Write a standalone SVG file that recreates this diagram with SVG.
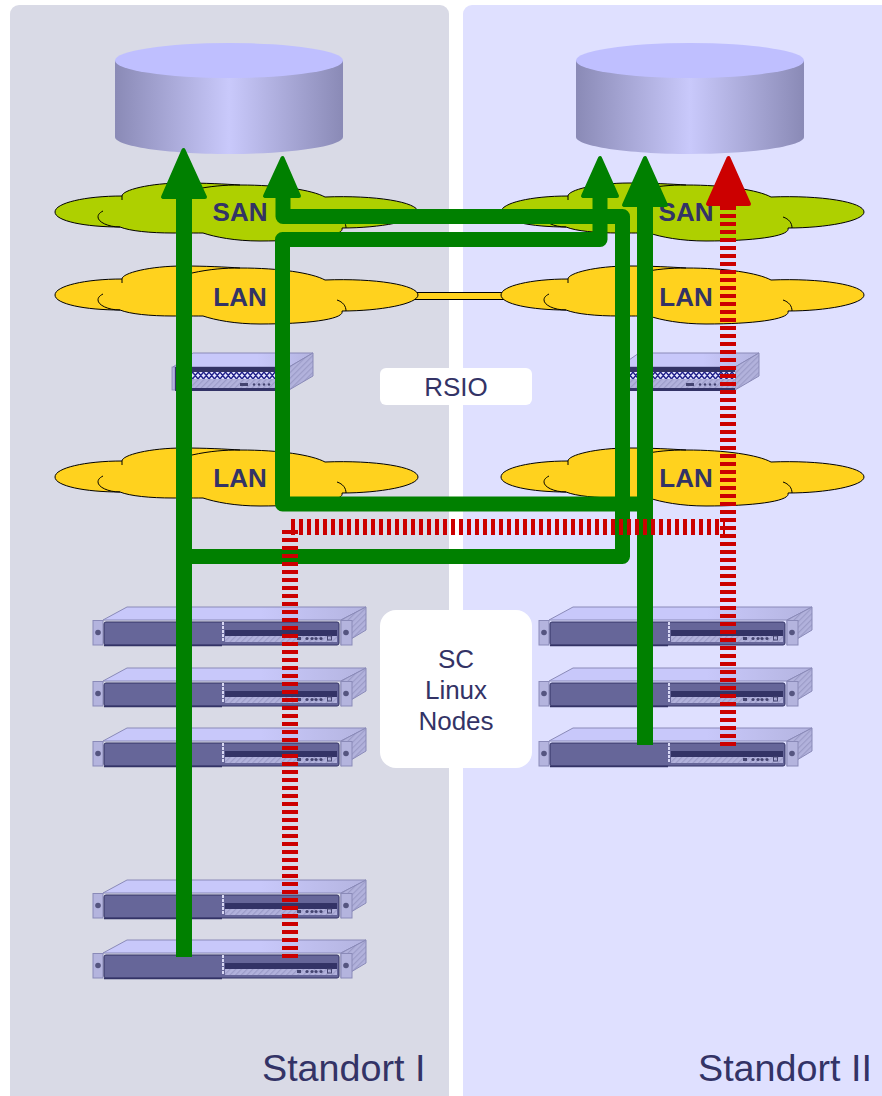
<svg xmlns="http://www.w3.org/2000/svg" width="882" height="1096" viewBox="0 0 882 1096">
<style>
text{font-family:"Liberation Sans",Arial,sans-serif;fill:#333366}
.cl{font-size:26px;font-weight:bold;text-anchor:middle}
.lb{font-size:26px;text-anchor:middle}
.st{font-size:37.7px}
.cs{stroke:#000;stroke-width:1}
.gl{fill:none;stroke:#008000;stroke-width:15;stroke-linejoin:round}
.ga{fill:#008000;stroke:#008000;stroke-width:4;stroke-linejoin:round}
.rl{fill:none;stroke:#cc0000;stroke-width:16;stroke-dasharray:4 4}
.ra{fill:#cc0000;stroke:#cc0000;stroke-width:4;stroke-linejoin:round}
</style>
<defs>
<linearGradient id="cyl" x1="0" x2="1" y1="0" y2="0">
<stop offset="0" stop-color="#8a8ab6"/><stop offset="0.5" stop-color="#c9c9fb"/><stop offset="1" stop-color="#8a8ab6"/>
</linearGradient>
<linearGradient id="topface" x1="0" x2="1" y1="0" y2="0">
<stop offset="0" stop-color="#c8c8fa"/><stop offset="0.6" stop-color="#c8c8fa"/><stop offset="1" stop-color="#b4b4e0"/>
</linearGradient>
<pattern id="hatch" width="4" height="4" patternUnits="userSpaceOnUse" patternTransform="rotate(-45)">
<rect width="4" height="4" fill="#b2b2dc"/><rect width="4" height="1.2" fill="#9c9cc8"/>
</pattern>
<pattern id="lat" width="11" height="7" patternUnits="userSpaceOnUse" x="176" y="372">
<rect width="11" height="7" fill="#e6e6ff"/><path d="M0 0L5.500 7L11 0M0 7L5.500 0L11 7" fill="none" stroke="#22228a" stroke-width="1.400"/>
</pattern>
<g id="cylinder">
<path d="M0 17.500V94C0 103 51 111 114 111S228 103 228 94V17.500Z" fill="url(#cyl)"/>
<ellipse cx="114" cy="17.500" rx="114" ry="17.500" fill="#bfbfff"/>
</g>
<g id="cloudshape">
<path class="cs" d="M55 212C55 203 85 196 122 196C122 190 150 183 183 183C205 183 225 184 240 185C280 185 312 190 325 197C375 195 418 202 418 212C418 221 380 228 342 228C345 236 310 241 260 241C235 241 215 237 203 233C190 233 180 233 173 233C150 233 130 231 120 227C85 227 55 221 55 212Z"/>
<path d="M122 196V200M103 211C99 213 98 215 98 217C98 222 108 227 120 227M337 217C343 219 346 223 346 228M192 190C210 186 225 185 240 185" fill="none" stroke="#000" stroke-width="1"/>
</g>
<g id="server">
<path d="M103 620L127 607H366L341 620Z" fill="url(#topface)" stroke="#8a8ab8"/>
<path d="M341 620L366 607V630L341 645Z" fill="url(#hatch)" stroke="#8a8ab8"/>
<rect x="93" y="620.500" width="10" height="24.500" fill="#b4b4de" stroke="#8a8ab8"/>
<rect x="341" y="620.500" width="11" height="24.500" fill="#b4b4de" stroke="#8a8ab8"/>
<circle cx="98" cy="632.500" r="2.800" fill="#555580"/>
<circle cx="346" cy="632.500" r="2.800" fill="#555580"/>
<rect x="104" y="622" width="235" height="23" rx="2" fill="#666699" stroke="#333366"/>
<path d="M104 645.500H222" stroke="#333366" stroke-width="1.500"/>
<path d="M223 622V642" stroke="#d8d8f4" stroke-width="2" stroke-dasharray="3 1"/>
<rect x="225" y="630" width="112" height="6" fill="#333366"/>
<rect x="225" y="636" width="112" height="6" fill="url(#hatch)"/>
<g fill="#444470"><rect x="297" y="637" width="4" height="3"/><circle cx="307" cy="638.500" r="1.600"/><circle cx="312" cy="638.500" r="1.600"/><circle cx="316" cy="638.500" r="1.600"/><circle cx="321" cy="638.500" r="1.600"/></g>
<rect x="327.500" y="636" width="4" height="4" fill="none" stroke="#444470"/>
</g>
<g id="switch">
<path d="M173 367L193 353H313L289 367Z" fill="url(#topface)" stroke="#8a8ab8"/>
<path d="M289 367L313 353V376L289 390Z" fill="url(#hatch)" stroke="#8a8ab8"/>
<rect x="172" y="367" width="3" height="23" fill="#b4b4de" stroke="#8a8ab8" stroke-width="0.800"/>
<rect x="175" y="367" width="114" height="24" fill="#333366"/>
<rect x="176" y="372" width="113" height="7" fill="url(#lat)"/>
<rect x="176" y="379" width="113" height="9" fill="url(#hatch)"/>
<rect x="240" y="383" width="8" height="3" fill="#444470"/>
<g fill="#444470"><circle cx="254" cy="384.500" r="1.200"/><circle cx="259" cy="384.500" r="1.200"/><circle cx="264" cy="384.500" r="1.200"/><circle cx="269" cy="384.500" r="1.200"/></g>
</g>
</defs>
<g id="sites">
<rect x="10" y="5" width="439" height="1100" rx="9" fill="#d9dae6"/>
<rect x="463" y="5" width="440" height="1100" rx="9" fill="#dfe0ff"/>
<text class="st" x="262" y="1081">Standort I</text>
<text class="st" x="698" y="1081">Standort II</text>
</g>
<g id="lan-bridge"><rect x="412" y="292.500" width="95" height="7" fill="#ffd21e" stroke="#000" stroke-width="1"/></g>
<g id="storage-1"><use href="#cylinder" x="115" y="43"/></g>
<g id="storage-2"><use href="#cylinder" x="576" y="43"/></g>
<g id="san-1"><use href="#cloudshape" fill="#aed000"/><text class="cl" x="240" y="221">SAN</text></g>
<g id="san-2"><use href="#cloudshape" x="446" fill="#aed000"/><text class="cl" x="686" y="221">SAN</text></g>
<g id="lan-1a"><use href="#cloudshape" y="83" fill="#ffd21e"/><text class="cl" x="240" y="306">LAN</text></g>
<g id="lan-2a"><use href="#cloudshape" x="446" y="83" fill="#ffd21e"/><text class="cl" x="686" y="306">LAN</text></g>
<g id="lan-1b"><use href="#cloudshape" y="265" fill="#ffd21e"/><text class="cl" x="240" y="487">LAN</text></g>
<g id="lan-2b"><use href="#cloudshape" x="446" y="265" fill="#ffd21e"/><text class="cl" x="686" y="487">LAN</text></g>
<g id="switch-1"><use href="#switch"/></g>
<g id="switch-2"><use href="#switch" x="446"/></g>
<g id="server-1a"><use href="#server"/></g>
<g id="server-1b"><use href="#server" y="61"/></g>
<g id="server-1c"><use href="#server" y="121"/></g>
<g id="server-1d"><use href="#server" y="273"/></g>
<g id="server-1e"><use href="#server" y="333"/></g>
<g id="server-2a"><use href="#server" x="446"/></g>
<g id="server-2b"><use href="#server" x="446" y="61"/></g>
<g id="server-2c"><use href="#server" x="446" y="121"/></g>
<g id="label-rsio"><rect x="380" y="368" width="152" height="37" rx="6" fill="#fff"/><text class="lb" x="456" y="396">RSIO</text></g>
<g id="label-nodes"><rect x="380" y="610" width="152" height="158" rx="16" fill="#fff"/><text class="lb" x="456" y="668">SC</text><text class="lb" x="456" y="699">Linux</text><text class="lb" x="456" y="730">Nodes</text></g>
<g id="connectors">
<path class="gl" d="M184 957V195" style="stroke-width:16"/>
<polygon class="ga" points="183.500,150 163,197 205,197"/>
<path class="gl" d="M184 556.500H622.500V216.500H283V195"/>
<polygon class="ga" points="282.500,158 265,196 299,196"/>
<path class="gl" d="M645 504H282.500V239.500H600V195"/>
<polygon class="ga" points="600,158 583,196 617,196"/>
<path class="gl" d="M645 745V200" style="stroke-width:16"/>
<polygon class="ga" points="645,158 624,205 666,205"/>
<path class="rl" d="M290 958V530"/>
<path class="rl" d="M291 527H725"/>
<path class="rl" d="M728 746V206"/>
<polygon class="ra" points="728.500,158 708,204 749,204"/>
</g>
</svg>
